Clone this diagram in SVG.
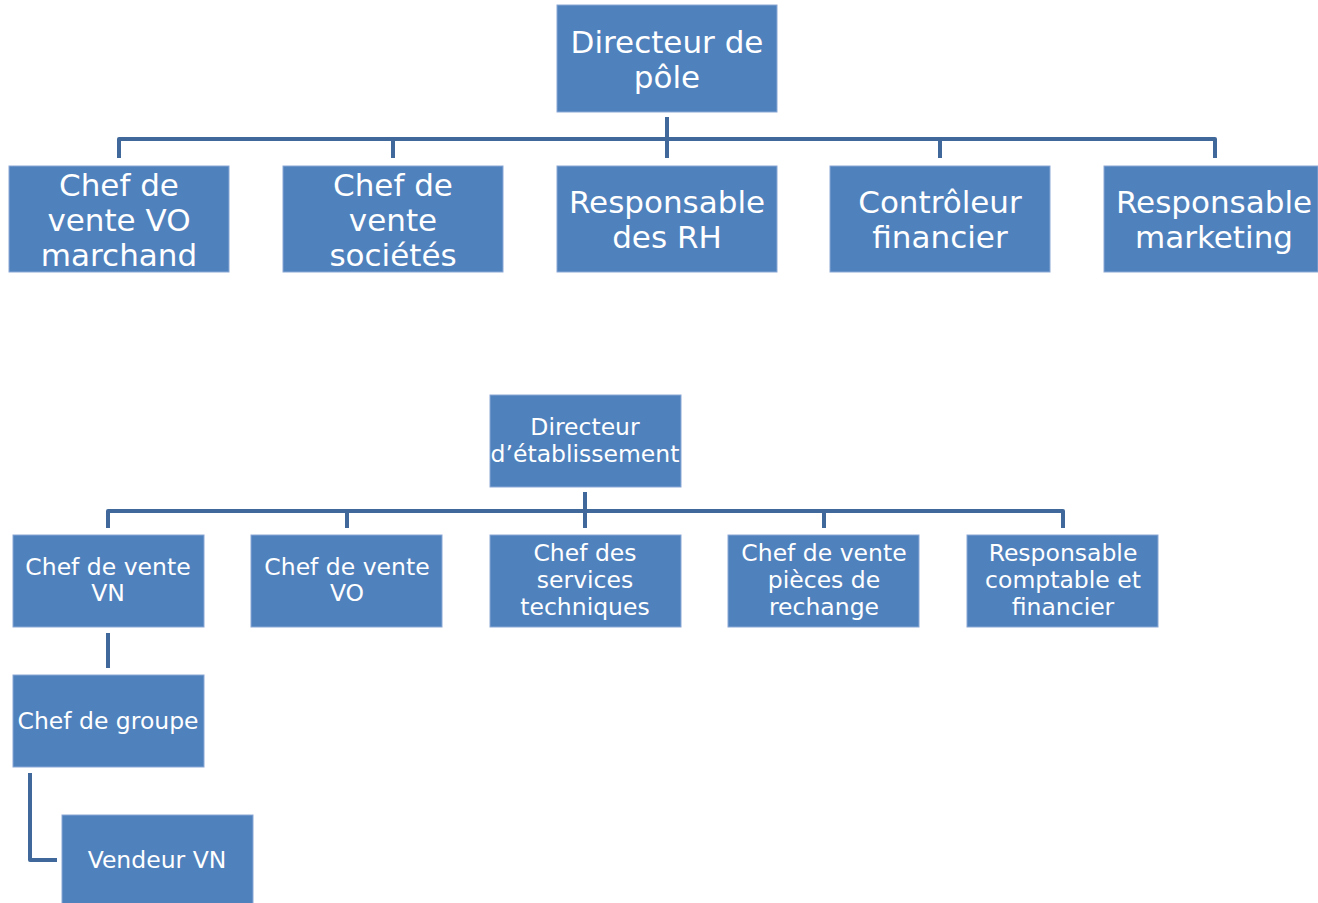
<svg xmlns="http://www.w3.org/2000/svg" width="1318" height="903" viewBox="0 0 1318 903">
<style>
.box{fill:#4F81BD;stroke:#8AA8D4;stroke-width:1}
.t{fill:#ffffff;font-family:"DejaVu Sans","Liberation Sans",sans-serif;text-anchor:middle}
.big{font-size:31px}
.small{font-size:23.5px}
.c{fill:none;stroke:#41689A;stroke-width:4;stroke-linejoin:round}
</style>
<rect width="1318" height="903" fill="#ffffff"/>
<g id="connectors">
<path class="c" d="M667 117V158M119 158V139H1215V158M393 139V158M940 139V158"/>
<path class="c" d="M585 492V528M108 528V511H1063V528M347 511V528M824 511V528"/>
<path class="c" d="M108 633V668"/>
<path class="c" d="M30 773V860H57"/>
</g>
<g id="n-directeur-pole"><rect class="box" x="557" y="5" width="220" height="107"/><text class="t big" x="667" y="53">Directeur de</text><text class="t big" x="667" y="88">pôle</text></g>
<g id="n-vo-marchand"><rect class="box" x="9" y="166" width="220" height="106"/><text class="t big" x="119" y="196">Chef de</text><text class="t big" x="119" y="231">vente VO</text><text class="t big" x="119" y="266">marchand</text></g>
<g id="n-vente-societes"><rect class="box" x="283" y="166" width="220" height="106"/><text class="t big" x="393" y="196">Chef de</text><text class="t big" x="393" y="231">vente</text><text class="t big" x="393" y="266">sociétés</text></g>
<g id="n-rh"><rect class="box" x="557" y="166" width="220" height="106"/><text class="t big" x="667" y="213">Responsable</text><text class="t big" x="667" y="248">des RH</text></g>
<g id="n-controleur"><rect class="box" x="830" y="166" width="220" height="106"/><text class="t big" x="940" y="213">Contrôleur</text><text class="t big" x="940" y="248">financier</text></g>
<g id="n-marketing"><rect class="box" x="1104" y="166" width="214" height="106"/><text class="t big" x="1214" y="213">Responsable</text><text class="t big" x="1214" y="248">marketing</text></g>
<g id="n-directeur-etab"><rect class="box" x="490" y="395" width="191" height="92"/><text class="t small" x="585" y="435">Directeur</text><text class="t small" x="585" y="462">d’établissement</text></g>
<g id="n-vn"><rect class="box" x="13" y="535" width="191" height="92"/><text class="t small" x="108" y="575">Chef de vente</text><text class="t small" x="108" y="601">VN</text></g>
<g id="n-vo"><rect class="box" x="251" y="535" width="191" height="92"/><text class="t small" x="347" y="575">Chef de vente</text><text class="t small" x="347" y="601">VO</text></g>
<g id="n-services"><rect class="box" x="490" y="535" width="191" height="92"/><text class="t small" x="585" y="561">Chef des</text><text class="t small" x="585" y="588">services</text><text class="t small" x="585" y="615">techniques</text></g>
<g id="n-pieces"><rect class="box" x="728" y="535" width="191" height="92"/><text class="t small" x="824" y="561">Chef de vente</text><text class="t small" x="824" y="588">pièces de</text><text class="t small" x="824" y="615">rechange</text></g>
<g id="n-comptable"><rect class="box" x="967" y="535" width="191" height="92"/><text class="t small" x="1063" y="561">Responsable</text><text class="t small" x="1063" y="588">comptable et</text><text class="t small" x="1063" y="615">financier</text></g>
<g id="n-groupe"><rect class="box" x="13" y="675" width="191" height="92"/><text class="t small" x="108" y="729">Chef de groupe</text></g>
<g id="n-vendeur"><rect class="box" x="62" y="815" width="191" height="92"/><text class="t small" x="157" y="868">Vendeur VN</text></g>
</svg>
